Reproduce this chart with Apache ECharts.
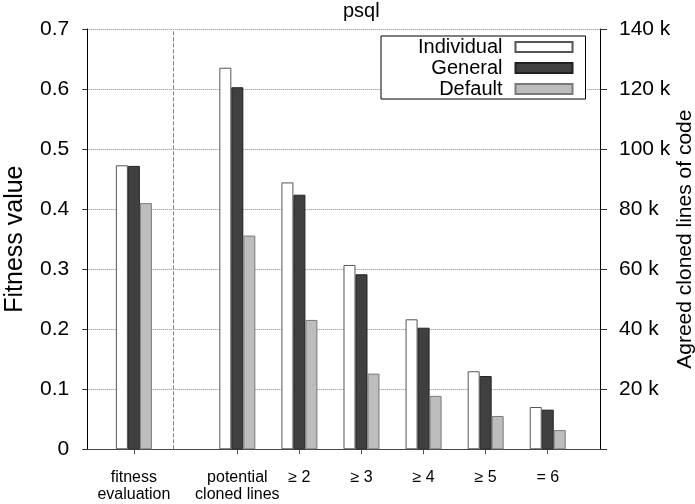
<!DOCTYPE html>
<html><head><meta charset="utf-8">
<script src="https://cdn.jsdelivr.net/npm/echarts@6/dist/echarts.min.js"></script>
<style>html,body{margin:0;padding:0;background:#fff}#c{width:695px;height:504px}</style>
</head><body><div id="c"></div>
<script>
// ---- data ----
const fitnessCategories = ['fitness\nevaluation'];
const clonedCategories = ['potential\ncloned lines', '≥ 2', '≥ 3', '≥ 4', '≥ 5', '= 6'];
// slot of each category group along the x axis (gnuplot-style x values)
const fitnessSlots = [0];
const clonedSlots = [10, 16, 22, 28, 34, 40];
const separatorSlot = 5;
const seriesNames = ['Individual', 'General', 'Default'];
// fitness value (left axis)
const fitnessIndividual = [0.473];
const fitnessGeneral = [0.472];
const fitnessDefault = [0.410];
// agreed cloned lines of code (right axis)
const clonedIndividual = [127100, 88900, 61400, 43300, 26000, 14100];
const clonedGeneral = [120600, 84800, 58300, 40500, 24400, 13200];
const clonedDefault = [71200, 43100, 25200, 17800, 11100, 6400];
const leftTicks = [0, 0.7, 0.1];
const rightTicks = [0, 140000, 20000];

// ---- chart ----
const FONT = "'Liberation Sans', Arial, Helvetica, sans-serif";
const allSlots = fitnessSlots.concat(clonedSlots);
const allLabels = fitnessCategories.concat(clonedCategories);
const styles = [
  {color: '#ffffff', borderColor: '#555555', borderWidth: 1},
  {color: '#404040', borderColor: '#222222', borderWidth: 1},
  {color: '#bdbdbd', borderColor: '#7a7a7a', borderWidth: 1}
];
const pairs = (slots, vals) => slots.map((s, i) => [s, vals[i]]);
const fitVals = [fitnessIndividual, fitnessGeneral, fitnessDefault];
const clonedVals = [clonedIndividual, clonedGeneral, clonedDefault];

const series = [];
seriesNames.forEach((name, k) => {
  series.push({
    name, type: 'bar', xAxisIndex: 0, yAxisIndex: 0,
    barWidth: 12, barGap: '0%',
    itemStyle: styles[k],
    data: pairs(fitnessSlots, fitVals[k]),
    markLine: k === 0 ? {
      silent: true, symbol: 'none', label: {show: false},
      lineStyle: {type: 'dashed', color: '#808080', width: 1},
      data: [{xAxis: separatorSlot}]
    } : undefined
  });
});
seriesNames.forEach((name, k) => {
  series.push({
    name, type: 'bar', xAxisIndex: 1, yAxisIndex: 1,
    barWidth: 12, barGap: '0%',
    itemStyle: styles[k],
    data: pairs(clonedSlots, clonedVals[k])
  });
});

const chart = echarts.init(document.getElementById('c'), null, {renderer: 'canvas'});
chart.setOption({
  animation: false,
  backgroundColor: '#ffffff',
  textStyle: {fontFamily: FONT},
  title: {
    text: 'psql', left: 343, top: 1, padding: 0,
    textStyle: {fontFamily: FONT, fontSize: 20, fontWeight: 'normal', color: '#000'}
  },
  legend: {
    data: seriesNames,
    orient: 'vertical', align: 'right', icon: 'rect',
    left: 381, top: 36,
    padding: [1, 12, 0, 37],
    itemWidth: 57, itemHeight: 10, itemGap: 1,
    borderColor: '#000', borderWidth: 1, backgroundColor: '#fff',
    selectedMode: false,
    textStyle: {fontFamily: FONT, fontSize: 20, color: '#000', lineHeight: 20, padding: [0, 8, 0, 0]}
  },
  grid: {left: 87.3, right: 95, top: 29, bottom: 54.7, containLabel: false, outerBoundsMode: 'none'},
  xAxis: [{
    type: 'value', min: -4.5, max: 45.05,
    axisLine: {onZero: false, lineStyle: {color: '#444', width: 1}},
    axisTick: {show: true, customValues: allSlots, length: 5, lineStyle: {color: '#555'}},
    axisLabel: {
      customValues: allSlots, margin: 20,
      fontFamily: FONT, fontSize: 16, lineHeight: 17, color: '#000',
      formatter: v => { const i = allSlots.indexOf(v); return i >= 0 ? allLabels[i] : ''; }
    },
    splitLine: {show: false}
  }, {
    type: 'value', min: -4.5, max: 45.05, show: false,
    splitLine: {show: false}
  }],
  yAxis: [{
    type: 'value', position: 'left',
    min: leftTicks[0], max: leftTicks[1], interval: leftTicks[2],
    name: 'Fitness value', nameLocation: 'middle', nameGap: 60, nameMoveOverlap: false,
    nameTextStyle: {fontFamily: FONT, fontSize: 25, color: '#000'},
    axisLine: {show: true, onZero: false, lineStyle: {color: '#000', width: 1}},
    axisTick: {show: true, length: 5, lineStyle: {color: '#333'}},
    axisLabel: {margin: 18, fontFamily: FONT, fontSize: 21, color: '#000',
      formatter: v => String(Math.round(v * 10) / 10)},
    splitLine: {show: true, lineStyle: {type: 'dotted', color: '#8a8a8a', width: 1}}
  }, {
    type: 'value', position: 'right',
    min: rightTicks[0], max: rightTicks[1], interval: rightTicks[2],
    name: 'Agreed cloned lines of code', nameLocation: 'middle', nameGap: 75, nameMoveOverlap: false,
    nameTextStyle: {fontFamily: FONT, fontSize: 21, color: '#000'},
    axisLine: {show: true, onZero: false, lineStyle: {color: '#000', width: 1}},
    axisTick: {show: true, length: 7, lineStyle: {color: '#333'}},
    axisLabel: {margin: 19, fontFamily: FONT, fontSize: 21, color: '#000',
      formatter: v => v === 0 ? '' : (v / 1000) + ' k'},
    splitLine: {show: false}
  }],
  series
});
</script></body></html>
